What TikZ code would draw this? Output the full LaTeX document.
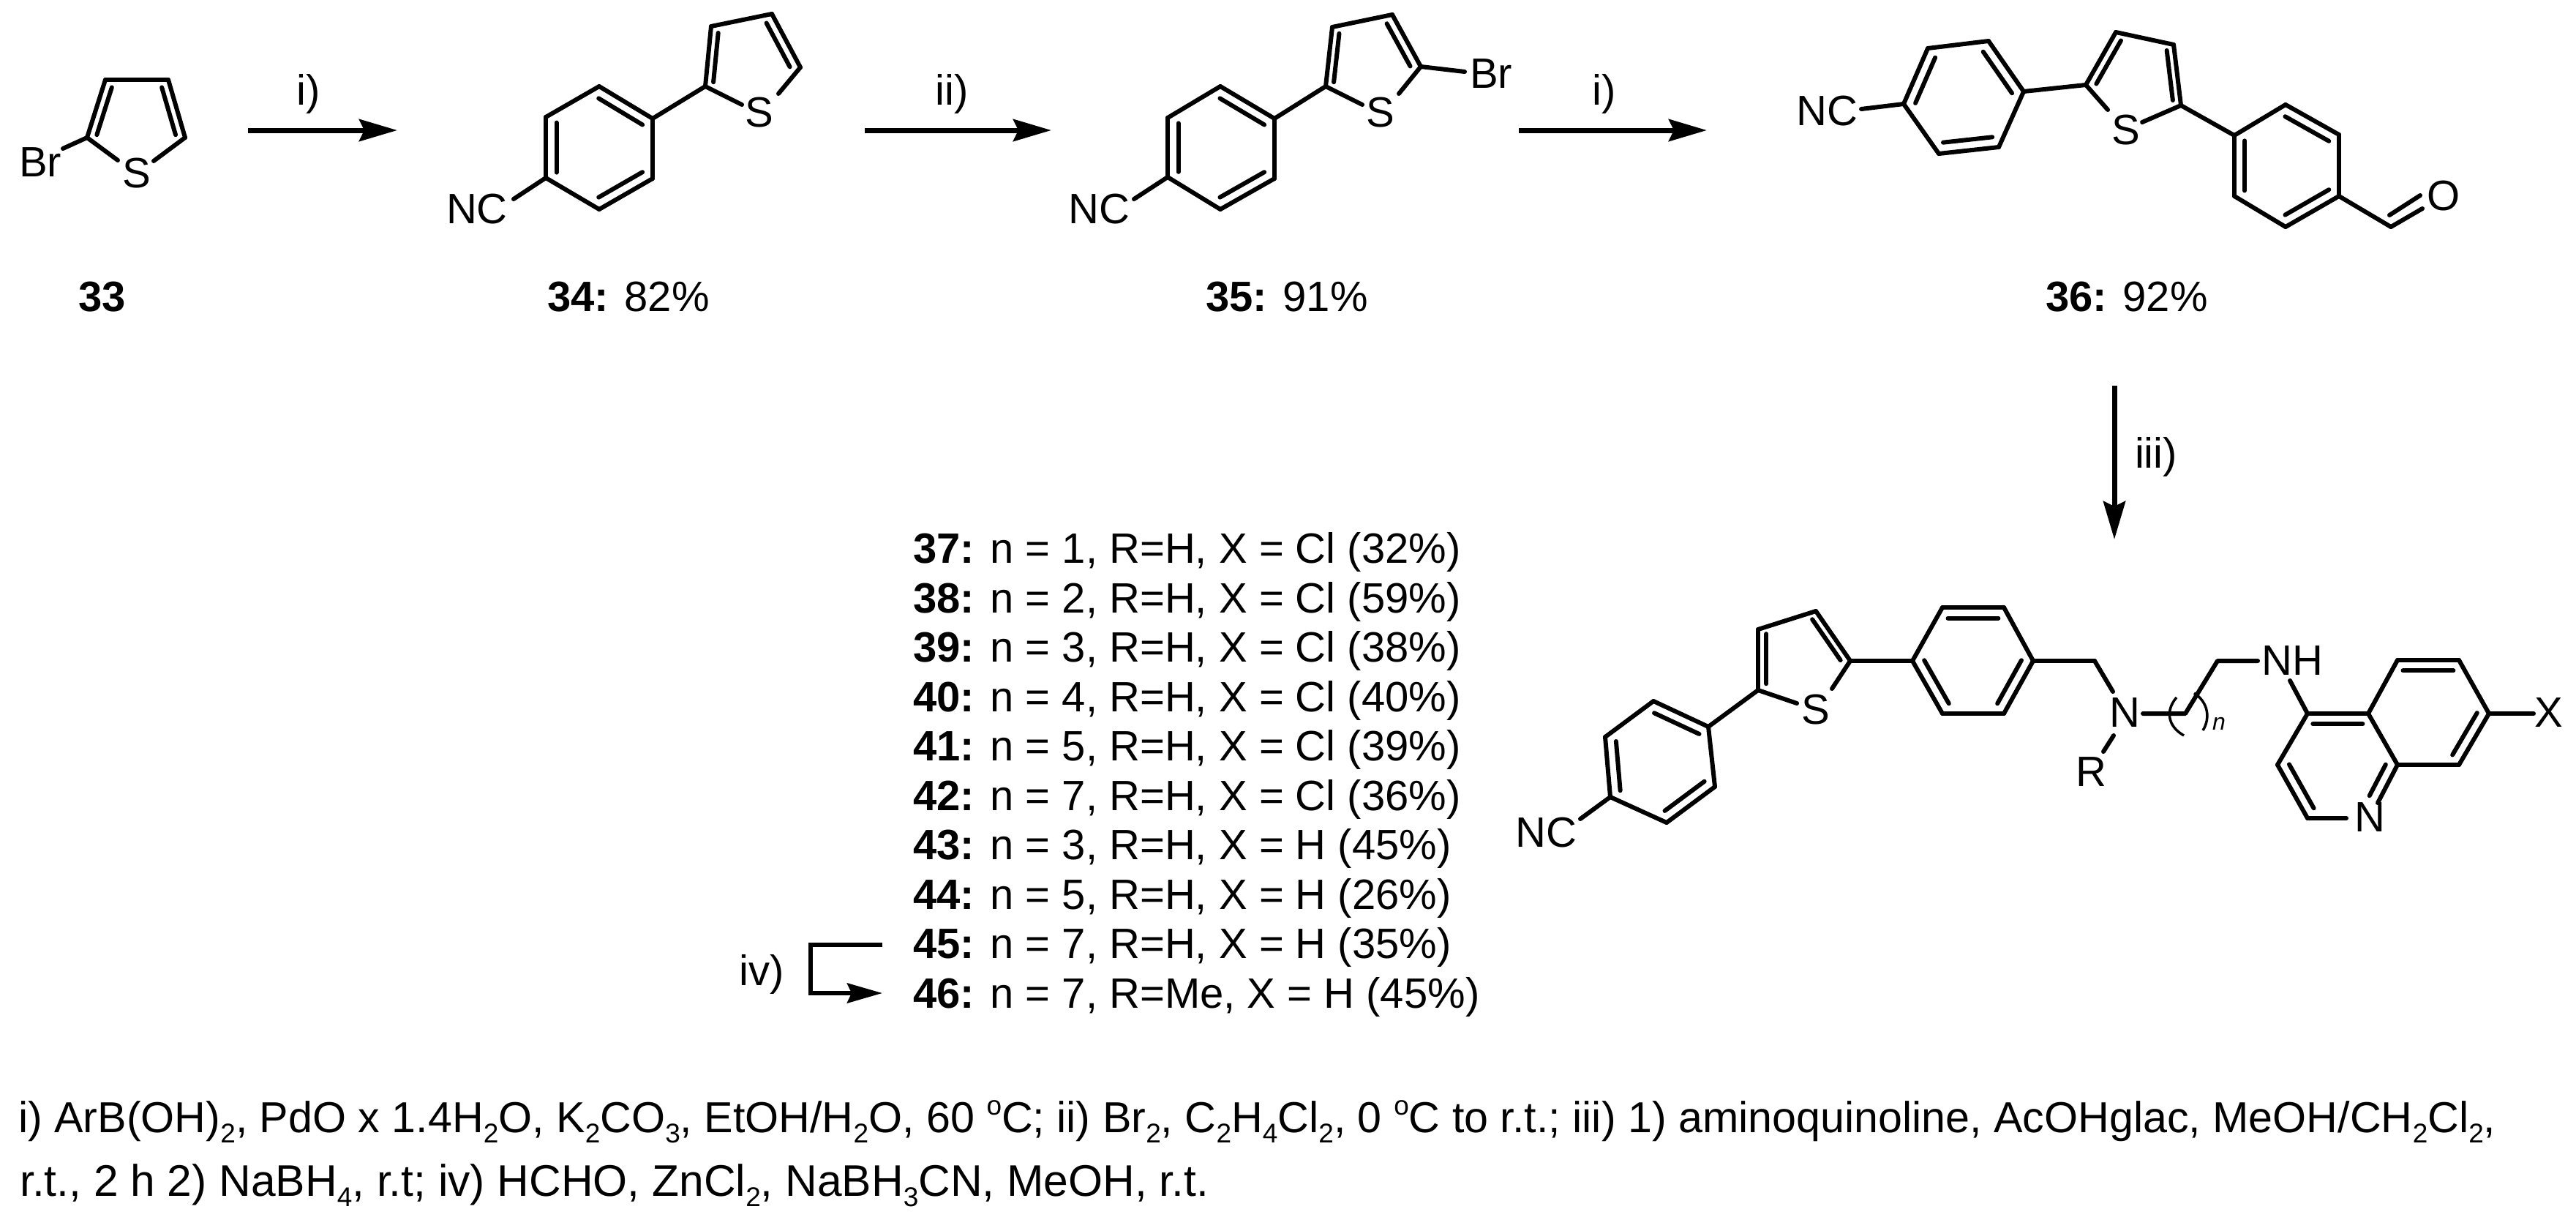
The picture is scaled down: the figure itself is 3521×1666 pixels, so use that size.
\documentclass[tikz,border=0pt]{standalone}
\usepackage{fontspec}
\setmainfont{Liberation Sans}
\usetikzlibrary{calc,arrows.meta}
\newcommand{\cc}[3]{\coordinate (#1) at (#2,#3);}
\newcommand{\sbond}[2]{\draw[bond] (#1) -- (#2);}
\newcommand{\dbond}[3]{\draw[bond] (#1) -- (#2);
  \draw[bond] ($(#1)!.09!(#2)+.2*(#3)-.1*(#1)-.1*(#2)$) -- ($(#2)!.09!(#1)+.2*(#3)-.1*(#1)-.1*(#2)$);}
\newcommand{\lbl}[4]{\node[txt] (#1) at (#2,#3) {#4};}
\newcommand{\sbs}[1]{\raisebox{-14pt}{\fontsize{37}{37}\selectfont #1}}
\newcommand{\sps}[1]{\raisebox{24pt}{\fontsize{37}{37}\selectfont #1}}
\tikzset{
  bond/.style={line width=6pt,line cap=round,line join=round},
  txt/.style={anchor=base,inner sep=0pt,font=\fontsize{58}{58}\selectfont},
  ltxt/.style={anchor=base west,inner sep=0pt,font=\fontsize{58}{58}\selectfont},
  rarrow/.style={line width=7pt,-{Stealth[length=52pt,width=30pt,inset=7pt]}}
}
\begin{document}
\begin{tikzpicture}[x=1pt,y=-1pt]
\useasboundingbox (0,0) rectangle (3521,1666);
\fill[white] (0,0) rectangle (3521,1666);

% ---------- 33
\cc{a1}{119}{188}\cc{a2}{144}{109}\cc{a3}{230}{109}\cc{a4}{253}{188}
\cc{a5}{161}{219}\cc{a6}{210}{220}\cc{a7}{86}{203}\cc{ac}{187}{165}
\dbond{a1}{a2}{ac}\sbond{a2}{a3}\dbond{a3}{a4}{ac}\sbond{a1}{a5}\sbond{a4}{a6}\sbond{a1}{a7}
\lbl{sa}{187}{256}{S}\lbl{bra}{55}{241}{Br}
\lbl{n33}{140}{425}{\textbf{33}}

% arrow 1
\cc{w1s}{339}{178}\cc{w1e}{543}{178}
\draw[rarrow] (w1s) -- (w1e);
\lbl{l1}{422}{143}{i)}

% ---------- 34
\cc{b1}{819}{118}\cc{b2}{892}{162}\cc{b3}{892}{244}\cc{b4}{819}{286}\cc{b5}{746}{243}\cc{b6}{746}{160}
\cc{bc}{819}{202}\cc{b7}{702}{272}
\cc{b8}{964}{118}\cc{b9}{972}{36}\cc{b10}{1055}{19}\cc{b11}{1094}{92}\cc{b12}{1014}{143}\cc{b13}{1064}{128}\cc{bd}{1020}{85}
\dbond{b1}{b2}{bc}\sbond{b2}{b3}\dbond{b3}{b4}{bc}\sbond{b4}{b5}\dbond{b5}{b6}{bc}\sbond{b6}{b1}
\sbond{b5}{b7}\sbond{b2}{b8}
\dbond{b8}{b9}{bd}\sbond{b9}{b10}\dbond{b10}{b11}{bd}\sbond{b8}{b12}\sbond{b11}{b13}
\lbl{nb}{652}{305}{NC}\lbl{sb}{1038}{173}{S}
\lbl{n34}{859}{425}{\textbf{34:} 82\%}

% arrow 2
\cc{w2s}{1182}{178}\cc{w2e}{1437}{178}
\draw[rarrow] (w2s) -- (w2e);
\lbl{l2}{1301}{143}{ii)}

% ---------- 35
\cc{c1}{1668}{118}\cc{c2}{1742}{162}\cc{c3}{1742}{244}\cc{c4}{1668}{286}\cc{c5}{1596}{242}\cc{c6}{1596}{161}
\cc{cc0}{1669}{202}\cc{c7}{1550}{272}
\cc{c8}{1812}{118}\cc{c9}{1821}{37}\cc{c10}{1903}{20}\cc{c11}{1942}{91}\cc{c12}{1862}{143}\cc{c13}{1912}{128}\cc{c14}{2002}{98}\cc{cd}{1868}{85}
\dbond{c1}{c2}{cc0}\sbond{c2}{c3}\dbond{c3}{c4}{cc0}\sbond{c4}{c5}\dbond{c5}{c6}{cc0}\sbond{c6}{c1}
\sbond{c5}{c7}\sbond{c2}{c8}
\dbond{c8}{c9}{cd}\sbond{c9}{c10}\dbond{c10}{c11}{cd}\sbond{c8}{c12}\sbond{c11}{c13}\sbond{c11}{c14}
\lbl{nc}{1502}{305}{NC}\lbl{sc}{1887}{173}{S}\lbl{brc}{2038}{120}{Br}
\lbl{n35}{1759}{425}{\textbf{35:} 91\%}

% arrow 3
\cc{w3s}{2076}{178}\cc{w3e}{2333}{178}
\draw[rarrow] (w3s) -- (w3e);
\lbl{l3}{2193}{143}{i)}

% ---------- 36
\cc{d1}{2635}{66}\cc{d2}{2718}{56}\cc{d3}{2766}{125}\cc{d4}{2732}{201}\cc{d5}{2650}{210}\cc{d6}{2602}{142}
\cc{dc}{2684}{133}\cc{d7}{2544}{149}
\cc{d8}{2851}{116}\cc{d9}{2892}{44}\cc{d10}{2971}{61}\cc{d11}{2981}{144}\cc{d12}{2881}{150}\cc{d13}{2928}{167}\cc{dd}{2925}{105}
\dbond{d6}{d1}{dc}\sbond{d1}{d2}\dbond{d2}{d3}{dc}\sbond{d3}{d4}\dbond{d4}{d5}{dc}\sbond{d5}{d6}
\sbond{d6}{d7}\sbond{d3}{d8}
\dbond{d8}{d9}{dd}\sbond{d9}{d10}\dbond{d10}{d11}{dd}\sbond{d8}{d12}\sbond{d11}{d13}
\cc{q1}{3054}{185}\cc{q2}{3124}{143}\cc{q3}{3197}{184}\cc{q4}{3197}{268}\cc{q5}{3124}{310}\cc{q6}{3054}{268}\cc{qc}{3125}{226}
\sbond{d11}{q1}\dbond{q2}{q3}{qc}\sbond{q1}{q2}\sbond{q3}{q4}\dbond{q4}{q5}{qc}\sbond{q5}{q6}\dbond{q6}{q1}{qc}
\cc{q7}{3268}{310}\cc{q8}{3311}{285}\cc{q9}{3266}{294}\cc{q10}{3308}{267}
\sbond{q4}{q7}\sbond{q7}{q8}\sbond{q9}{q10}
\lbl{nd}{2497}{171}{NC}\lbl{sd}{2906}{197}{S}\lbl{od}{3340}{287}{O}
\lbl{n36}{2907}{425}{\textbf{36:} 92\%}

% arrow iii
\cc{w4s}{2890}{527}\cc{w4e}{2890}{737}
\draw[rarrow] (w4s) -- (w4e);
\lbl{l4}{2947}{639}{iii)}

% ---------- final structure
\cc{e1}{2260}{958}\cc{e2}{2335}{993}\cc{e3}{2344}{1075}\cc{e4}{2278}{1124}\cc{e5}{2201}{1089}\cc{e6}{2194}{1007}
\cc{ec}{2269}{1041}\cc{e7}{2160}{1119}
\dbond{e1}{e2}{ec}\sbond{e2}{e3}\dbond{e3}{e4}{ec}\sbond{e4}{e5}\dbond{e5}{e6}{ec}\sbond{e6}{e1}\sbond{e5}{e7}
\cc{f1}{2403}{943}\cc{f2}{2403}{860}\cc{f3}{2482}{835}\cc{f4}{2529}{903}\cc{f5}{2456}{961}\cc{f6}{2504}{941}\cc{fc}{2460}{895}
\sbond{e2}{f1}\dbond{f1}{f2}{fc}\sbond{f2}{f3}\dbond{f3}{f4}{fc}\sbond{f1}{f5}\sbond{f4}{f6}
\cc{g1}{2614}{903}\cc{g2}{2655}{830}\cc{g3}{2739}{830}\cc{g4}{2779}{903}\cc{g5}{2739}{975}\cc{g6}{2655}{975}\cc{gc}{2697}{903}
\sbond{f4}{g1}\sbond{g1}{g2}\dbond{g2}{g3}{gc}\sbond{g3}{g4}\dbond{g4}{g5}{gc}\sbond{g5}{g6}\dbond{g6}{g1}{gc}
\cc{h1}{2863}{903}\cc{h2}{2888}{945}\cc{h3}{2889}{1005}\cc{h4}{2875}{1027}
\sbond{g4}{h1}\sbond{h1}{h2}\sbond{h3}{h4}
\cc{h5}{2929}{975}\cc{h6}{2987}{975}\cc{h7}{3031}{903}\cc{h8}{3086}{903}
\draw[bond] (h5) -- (h6) -- (h7) -- (h8);
\cc{pa}{2975}{953}\cc{pb}{2985}{1005}\cc{pc}{2999}{947}\cc{pd}{3011}{998}
\draw[line width=3.5pt] (pa) .. controls (2960,970) and (2962,992) .. (pb);
\draw[line width=3.5pt] (pc) .. controls (3019,960) and (3021,982) .. (pd);
\cc{j0}{3130}{930}
\cc{j1}{3154}{975}\cc{j2}{3113}{1045}\cc{j3}{3154}{1118}\cc{j4}{3207}{1118}\cc{j5}{3277}{1045}\cc{j6}{3237}{975}\cc{j7}{3250}{1097}\cc{jc}{3195}{1046}
\cc{k1}{3277}{902}\cc{k2}{3361}{902}\cc{k3}{3402}{975}\cc{k4}{3361}{1045}\cc{kc}{3319}{974}\cc{k5}{3463}{975}
\sbond{j0}{j1}\dbond{j1}{j6}{jc}\sbond{j1}{j2}\dbond{j2}{j3}{jc}\sbond{j3}{j4}\dbond{j5}{j7}{jc}\sbond{j5}{j6}
\sbond{j6}{k1}\dbond{k1}{k2}{kc}\sbond{k2}{k3}\dbond{k3}{k4}{kc}\sbond{k4}{j5}\sbond{k3}{k5}
\lbl{ne}{2113}{1157}{NC}\lbl{se}{2482}{989}{S}\lbl{ne2}{2904}{993}{N}\lbl{re}{2858}{1074}{R}
\lbl{nhe}{3133}{922}{NH}\lbl{ne3}{3239}{1136}{N}\lbl{xe}{3484}{993}{X}
\node[anchor=base,inner sep=0pt,font=\fontsize{32}{32}\selectfont\itshape] (nn) at (3033,997) {n};

% ---------- compound list
\node[ltxt] (t37) at (1248,769.5) {\textbf{37:} n = 1, R=H, X = Cl (32\%)};
\node[ltxt] (t38) at (1248,837) {\textbf{38:} n = 2, R=H, X = Cl (59\%)};
\node[ltxt] (t39) at (1248,904.5) {\textbf{39:} n = 3, R=H, X = Cl (38\%)};
\node[ltxt] (t40) at (1248,972) {\textbf{40:} n = 4, R=H, X = Cl (40\%)};
\node[ltxt] (t41) at (1248,1039.5) {\textbf{41:} n = 5, R=H, X = Cl (39\%)};
\node[ltxt] (t42) at (1248,1107) {\textbf{42:} n = 7, R=H, X = Cl (36\%)};
\node[ltxt] (t43) at (1248,1174.5) {\textbf{43:} n = 3, R=H, X = H (45\%)};
\node[ltxt] (t44) at (1248,1242) {\textbf{44:} n = 5, R=H, X = H (26\%)};
\node[ltxt] (t45) at (1248,1309.5) {\textbf{45:} n = 7, R=H, X = H (35\%)};
\node[ltxt] (t46) at (1248,1377) {\textbf{46:} n = 7, R=Me, X = H (45\%)};

% iv) bracket arrow
\cc{v1}{1206}{1291}\cc{v2}{1108}{1291}\cc{v3}{1108}{1357}\cc{v4}{1206}{1357}
\draw[line width=6pt,-{Stealth[length=48pt,width=27pt,inset=6pt]}] (v1) -- (v2) -- (v3) -- (v4);
\lbl{l5}{1041}{1346}{iv)}

% ---------- conditions
\node[ltxt,font=\fontsize{59.2}{59.2}\selectfont] (c1t) at (25,1547) {i) ArB(OH)\sbs{2}, PdO x 1.4H\sbs{2}O, K\sbs{2}CO\sbs{3}, EtOH/H\sbs{2}O, 60 \sps{o}C; ii) Br\sbs{2}, C\sbs{2}H\sbs{4}Cl\sbs{2}, 0 \sps{o}C to r.t.; iii) 1) aminoquinoline, AcOHglac, MeOH/CH\sbs{2}Cl\sbs{2},};
\node[ltxt,font=\fontsize{60.5}{60.5}\selectfont] (c2t) at (27,1634) {r.t., 2 h 2) NaBH\sbs{4}, r.t; iv) HCHO, ZnCl\sbs{2}, NaBH\sbs{3}CN, MeOH, r.t.};
\end{tikzpicture}
\end{document}
